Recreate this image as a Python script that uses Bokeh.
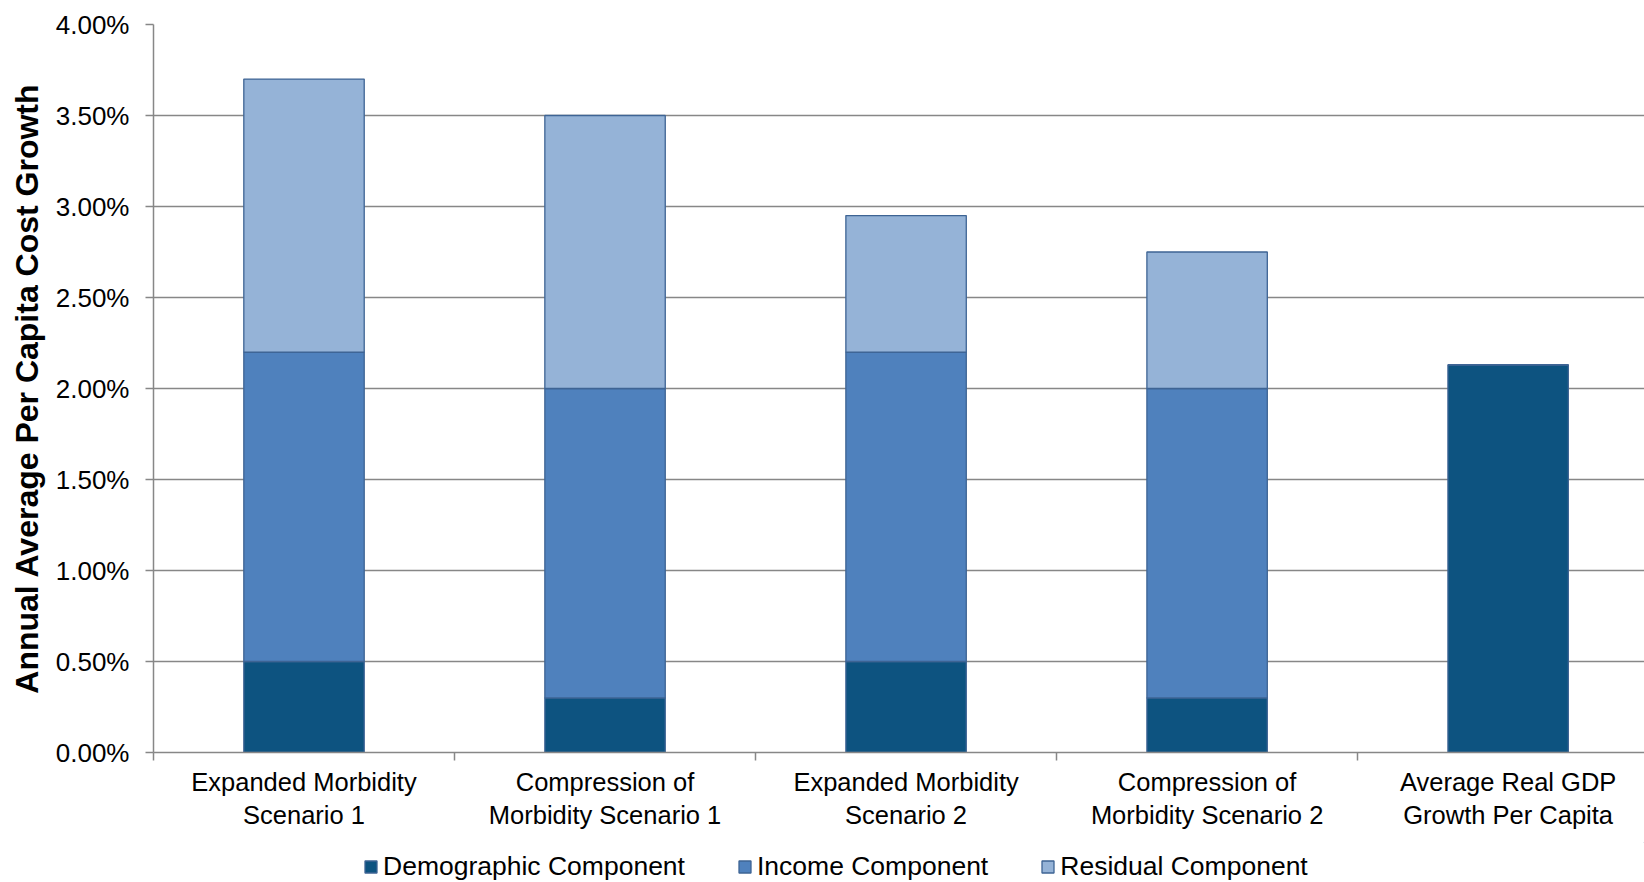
from bokeh.plotting import figure
from bokeh.layouts import column
from bokeh.models import ColumnDataSource, FixedTicker, Range1d, Legend, LegendItem
from bokeh.embed import file_html
from bokeh.resources import INLINE

categories = ["Expanded Morbidity\nScenario 1", "Compression of\nMorbidity Scenario 1",
              "Expanded Morbidity\nScenario 2", "Compression of\nMorbidity Scenario 2",
              "Average Real GDP\nGrowth Per Capita"]
demographic = [0.50, 0.30, 0.50, 0.30, 2.13]
income = [1.70, 1.70, 1.70, 1.70, 0.0]
residual = [1.50, 1.50, 0.75, 0.75, 0.0]
series_names = ["Demographic Component", "Income Component", "Residual Component"]
y_ticks = [0.0, 0.5, 1.0, 1.5, 2.0, 2.5, 3.0, 3.5, 4.0]
y_tick_labels = ["0.00%", "0.50%", "1.00%", "1.50%", "2.00%", "2.50%", "3.00%", "3.50%", "4.00%"]

colors = ["#0D5380", "#4F81BD", "#95B3D7"]
OUTLINE = "#3E6494"
FONT = "Liberation Sans"

xs = [i + 0.5 for i in range(len(categories))]
src = ColumnDataSource(dict(x=xs, demo=demographic, inc=income, res=residual))

p = figure(width=1644, height=842, output_backend="svg", toolbar_location=None,
           x_range=Range1d(0, 4.953), y_range=Range1d(0, 4.0),
           min_border_left=153, min_border_right=0, min_border_top=24, min_border_bottom=90)
p.frame_height = 728
p.frame_width = 1491
p.outline_line_color = None
p.background_fill_color = "white"

rs = p.vbar_stack(["demo", "inc", "res"], x="x", width=0.4, source=src, color=colors,
                  line_color=OUTLINE, line_width=1.3)

# y axis
yax = p.yaxis[0]
yax.ticker = FixedTicker(ticks=y_ticks)
yax.major_label_overrides = {t: l for t, l in zip(y_ticks, y_tick_labels)}
yax.major_label_text_font = FONT
yax.major_label_text_font_size = "26px"
yax.major_label_text_color = "black"
yax.major_label_standoff = 16
yax.major_tick_out = 8
yax.major_tick_in = 0
yax.minor_tick_line_color = None
yax.major_tick_line_color = "#878787"
yax.major_tick_line_width = 1.5
yax.axis_line_color = "#878787"
yax.axis_line_width = 1.5
yax.axis_label = "Annual Average Per Capita Cost Growth"
yax.axis_label_text_font = FONT
yax.axis_label_text_font_style = "bold"
yax.axis_label_text_font_size = "32px"
yax.axis_label_text_color = "black"
yax.axis_label_standoff = 8

# x axis
xax = p.xaxis[0]
xax.ticker = FixedTicker(ticks=xs, minor_ticks=[0, 1, 2, 3, 4, 5])
xax.major_label_overrides = {x: c for x, c in zip(xs, categories)}
xax.major_label_text_font = FONT
xax.major_label_text_font_size = "25.5px"
xax.major_label_text_color = "black"
xax.major_label_standoff = 7
xax.major_tick_out = 8
xax.major_tick_line_color = None
xax.minor_tick_line_color = "#878787"
xax.minor_tick_line_width = 1.5
xax.minor_tick_out = 8
xax.minor_tick_in = 0
xax.axis_line_color = "#878787"
xax.axis_line_width = 1.5

p.xgrid.grid_line_color = None
p.ygrid.ticker = FixedTicker(ticks=y_ticks)
p.ygrid.grid_line_color = "#878787"
p.ygrid.grid_line_width = 1.5

# legend strip below the chart
lg = figure(width=1644, height=40, output_backend="svg", toolbar_location=None,
            x_range=Range1d(0, 1), y_range=Range1d(0, 1),
            min_border_left=0, min_border_right=0, min_border_top=0, min_border_bottom=0)
lg.axis.visible = False
lg.grid.visible = False
lg.outline_line_color = None
dummies = [lg.vbar(x=[50], bottom=[50], top=[51], width=0.1, fill_color=c,
                   line_color=OUTLINE, line_width=1.3)
           for c in colors]
legend = Legend(items=[LegendItem(label=n, renderers=[r]) for n, r in zip(series_names, dummies)],
                orientation="horizontal", location=(210, 0),
                label_text_font=FONT, label_text_font_size="26.5px", label_text_color="black",
                glyph_width=15, glyph_height=15, label_standoff=5, spacing=52,
                padding=0, margin=0, border_line_color=None, background_fill_alpha=0)
lg.add_layout(legend, "center")

open("out.html", "w").write(file_html(column(p, lg, spacing=0), INLINE))
